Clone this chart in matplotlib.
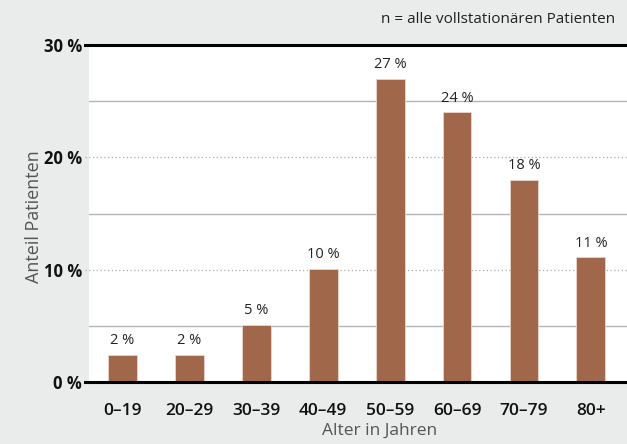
import matplotlib
matplotlib.use("Agg")
import matplotlib.pyplot as plt
import numpy as np

# DATA
kategorien = ["0–19", "20–29", "30–39", "40–49", "50–59", "60–69", "70–79", "80+"]
anteil = [2.4, 2.4, 5.1, 10.1, 27.0, 24.0, 18.0, 11.1]
beschriftung = ["2 %", "2 %", "5 %", "10 %", "27 %", "24 %", "18 %", "11 %"]
y_ticks = [0, 10, 20, 30]
y_ticklabels = ["0 %", "10 %", "20 %", "30 %"]

plt.rcParams["font.family"] = ["Open Sans", "DejaVu Sans"]

bg = "#e9eceb"
bar_color = "#a0674a"

fig = plt.figure(figsize=(6.27, 4.44), dpi=100, facecolor=bg)
ax = fig.add_axes([0.142, 0.1396, 0.858, 0.759])
ax.set_facecolor("white")

x = np.arange(len(kategorien))
ax.bar(x, anteil, width=0.43, color=bar_color, edgecolor="#ead6ca", linewidth=0.6, zorder=3)

for xi, v, t in zip(x, anteil, beschriftung):
    ax.text(xi, v + 0.6, t, ha="center", va="bottom", fontsize=10.5, color="#222222", zorder=4)

# GRID
for g in [5, 15, 25]:
    ax.axhline(g, color="#b5b5b5", linewidth=1.0, zorder=1)
for g in [10, 20]:
    ax.axhline(g, xmin=-0.008, xmax=1, color="#aaaaaa", linewidth=0.9,
               linestyle=(0, (1, 2)), zorder=1, clip_on=False)
ax.axhline(0, xmin=-0.008, color="black", linewidth=2.2, zorder=5, clip_on=False)
ax.axhline(30, xmin=-0.008, color="black", linewidth=2.2, zorder=5, clip_on=False)

ax.set_xlim(-0.5, 7.54)
ax.set_ylim(0, 30)

for s in ax.spines.values():
    s.set_visible(False)

ax.set_yticks(y_ticks)
ax.set_yticklabels(y_ticklabels, fontsize=12, fontweight="bold", color="#111111")
ax.set_xticks(x)
ax.set_xticklabels(kategorien, fontsize=12.5, fontweight="semibold", color="#111111")
ax.tick_params(axis="both", length=0)
ax.tick_params(axis="y", pad=5)
ax.tick_params(axis="x", pad=15)

ax.set_xlabel("Alter in Jahren", fontsize=12.5, color="#555555", labelpad=4)
ax.xaxis.set_label_coords(0.54, -0.12)
ax.set_ylabel("Anteil Patienten", fontsize=13, color="#555555")
ax.yaxis.set_label_coords(-0.085, 0.49)

fig.text(0.981, 0.955, "n = alle vollstationären Patienten", ha="right", va="center",
         fontsize=11, color="#222222")

plt.savefig("out.png", dpi=100, facecolor=bg)
plt.close()
